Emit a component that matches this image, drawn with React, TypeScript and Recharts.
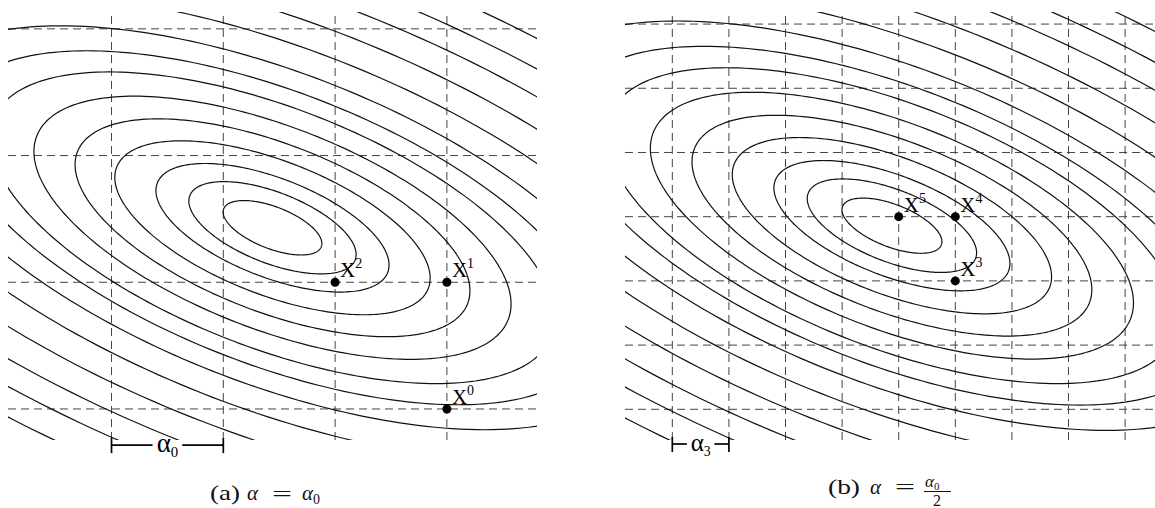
import { ComposedChart, XAxis, YAxis, Line, Scatter, ReferenceLine } from 'recharts'

const SERIF = '"Liberation Serif", "Times New Roman", serif'

// quadratic objective f(u, v) shared by both panels (units = alpha0 grid steps)
const CENTER = { u: 2.44, v: 1.43 }
const SHEAR = 0.71
const SQUASH = 0.597
// contour levels, read as half-width of each ellipse along the horizontal through the centre
const LEVELS = [0.36, 0.61, 0.85, 1.15, 1.44, 1.74, 2.06, 2.34, 2.67, 3.09, 3.54, 3.99, 4.39, 4.84]

// panel (a): step alpha0
const GRID_A_X = [1, 2, 3, 4]
const GRID_A_Y = [0, 1, 2, 3]
const ITER_A = [
  { u: 4, v: 0, k: '0' },
  { u: 4, v: 1, k: '1' },
  { u: 3, v: 1, k: '2' },
]

// panel (b): step alpha0 / 2
const GRID_B_X = [0.5, 1, 1.5, 2, 2.5, 3, 3.5, 4, 4.5]
const GRID_B_Y = [0, 0.5, 1, 1.5, 2, 2.5, 3]
const ITER_B = [
  { u: 3, v: 1, k: '3' },
  { u: 3, v: 1.5, k: '4' },
  { u: 2.5, v: 1.5, k: '5' },
]

const BRACKET_A = { from: 1, to: 2, v: -0.285, sub: '0' }
const BRACKET_B = { from: 0.5, to: 1, v: -0.27, sub: '3' }

function contour(rho: number) {
  const pts: { u: number; v: number }[] = []
  for (let i = 0; i <= 240; i++) {
    const t = (i / 240) * Math.PI * 2
    pts.push({
      u: CENTER.u + rho * (Math.cos(t) + SHEAR * Math.sin(t)),
      v: CENTER.v - rho * SQUASH * Math.sin(t),
    })
  }
  return pts
}

const CONTOURS = LEVELS.map(contour)

function IterDot(props: any) {
  const { cx, cy, payload } = props
  if (cx == null || cy == null) return null
  return (
    <g>
      <circle cx={cx} cy={cy} r={4.5} fill="#000" />
      <text x={cx + 5} y={cy - 5} fontFamily={SERIF} fontSize={21} fill="#000">
        X<tspan dy={-9} fontSize={14}>{payload.k}</tspan>
      </text>
    </g>
  )
}

function bracketShape(sub: string, fs: number) {
  return (p: any) => {
    const { x1, x2, y1 } = p
    const mid = (x1 + x2) / 2
    const half = fs * 0.55
    return (
      <g stroke="#000" strokeWidth={1.7}>
        <line x1={x1} y1={y1 - 7} x2={x1} y2={y1 + 8} />
        <line x1={x2} y1={y1 - 7} x2={x2} y2={y1 + 8} />
        <line x1={x1} y1={y1} x2={mid - half} y2={y1} />
        <line x1={mid + half} y1={y1} x2={x2} y2={y1} />
        <text x={mid} y={y1 + 7} textAnchor="middle" fontFamily={SERIF} fontSize={fs} fill="#000" stroke="none">
          α<tspan dy={5} fontSize={fs * 0.55}>{sub}</tspan>
        </text>
      </g>
    )
  }
}

interface PanelProps {
  left: number
  width: number
  domainU: [number, number]
  domainV: [number, number]
  gridX: number[]
  gridY: number[]
  iterates: { u: number; v: number; k: string }[]
  bracket: { from: number; to: number; v: number; sub: string }
  fs: number
}

function Panel({ left, width, domainU, domainV, gridX, gridY, iterates, bracket, fs }: PanelProps) {
  return (
    <div style={{ position: 'absolute', left, top: 12 }}>
      <ComposedChart width={width} height={458} margin={{ top: 0, right: 0, bottom: 30, left: 0 }}>
        <XAxis type="number" dataKey="u" domain={domainU} allowDataOverflow hide />
        <YAxis type="number" dataKey="v" domain={domainV} allowDataOverflow hide />
        {gridX.map(x => (
          <ReferenceLine key={'gx' + x} x={x} stroke="#444" strokeWidth={1} strokeDasharray="8 5" />
        ))}
        {gridY.map(y => (
          <ReferenceLine key={'gy' + y} y={y} stroke="#444" strokeWidth={1} strokeDasharray="8 5" />
        ))}
        {CONTOURS.map((pts, i) => (
          <Line
            key={'c' + i}
            data={pts}
            dataKey="v"
            type="linear"
            stroke="#111"
            strokeWidth={1.2}
            dot={false}
            activeDot={false}
            isAnimationActive={false}
          />
        ))}
        <Scatter data={iterates} dataKey="v" shape={IterDot} isAnimationActive={false} />
        <ReferenceLine
          segment={[{ x: bracket.from, y: bracket.v }, { x: bracket.to, y: bracket.v }]}
          ifOverflow="visible"
          shape={bracketShape(bracket.sub, fs)}
        />
      </ComposedChart>
    </div>
  )
}

export default function App() {
  return (
    <div style={{ position: 'fixed', left: 0, top: 0, width: 1155, height: 508, background: '#fff', overflow: 'hidden' }}>
      <Panel
        left={8}
        width={529}
        domainU={[0.074, 4.806]}
        domainV={[-0.245, 3.133]}
        gridX={GRID_A_X}
        gridY={GRID_A_Y}
        iterates={ITER_A}
        bracket={BRACKET_A}
        fs={27}
      />
      <Panel
        left={625}
        width={530}
        domainU={[0.082, 4.764]}
        domainV={[-0.239, 3.094]}
        gridX={GRID_B_X}
        gridY={GRID_B_Y}
        iterates={ITER_B}
        bracket={BRACKET_B}
        fs={25}
      />
      <svg width={1155} height={508} style={{ position: 'absolute', left: 0, top: 0, pointerEvents: 'none' }}>
        <g fontFamily={SERIF} fill="#111">
          <text x={210} y={500} fontSize={21} textLength={30} lengthAdjust="spacingAndGlyphs">(a)</text>
          <text x={247} y={500} fontSize={21} fontStyle="italic">α</text>
          <text x={272} y={501} fontSize={21} textLength={20} lengthAdjust="spacingAndGlyphs">=</text>
          <text x={302} y={500} fontSize={21}>
            <tspan fontStyle="italic">α</tspan>
            <tspan dy={4} fontSize={14}>0</tspan>
          </text>

          <text x={828} y={494} fontSize={21} textLength={32} lengthAdjust="spacingAndGlyphs">(b)</text>
          <text x={870} y={494} fontSize={21} fontStyle="italic">α</text>
          <text x={895} y={494} fontSize={21} textLength={20} lengthAdjust="spacingAndGlyphs">=</text>
          <text x={925} y={487} fontSize={17}>
            <tspan fontStyle="italic">α</tspan>
            <tspan dy={3} fontSize={11}>0</tspan>
          </text>
          <line x1={924} y1={491.5} x2={951} y2={491.5} stroke="#111" strokeWidth={1} />
          <text x={937} y={506} fontSize={16} textAnchor="middle">2</text>
        </g>
      </svg>
    </div>
  )
}
